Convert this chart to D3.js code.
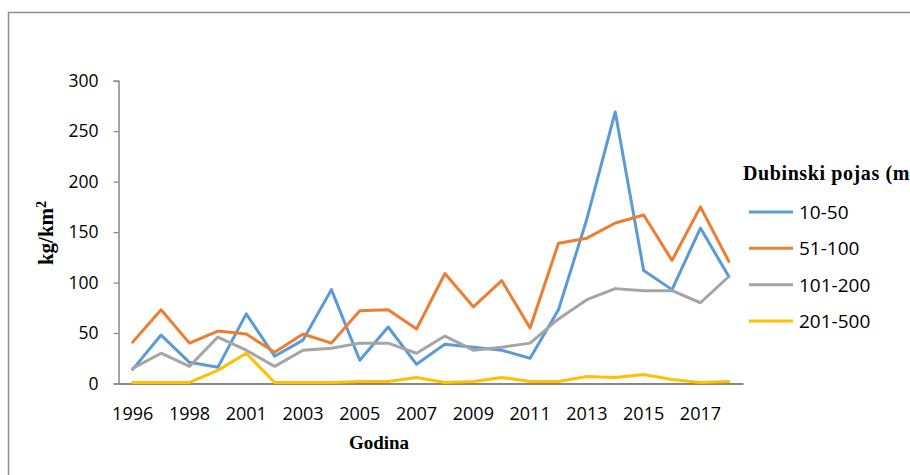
<!DOCTYPE html>
<html>
<head>
<meta charset="utf-8">
<script src="https://cdn.jsdelivr.net/npm/d3@7"></script>
<style>
  html, body { margin: 0; padding: 0; background: #fff; }
  svg { display: block; }
</style>
</head>
<body>
<svg id="chart" width="910" height="475"></svg>
<script>
const years = ["1996","1997","1998","2000","2001","2002","2003","2004","2005","2006","2007","2008","2009","2010","2011","2012","2013","2014","2015","2016","2017","2018"];
const seriesNames = ["10-50","51-100","101-200","201-500"];
const s10_50   = [14,48,21,16,69,27,43,93,23,56,19,39,36,33,25,73,163,269,112,93,154,106];
const s51_100  = [41,73,40,52,49,31,49,40,72,73,54,109,76,102,55,139,144,159,167,122,175,121];
const s101_200 = [15,30,17,46,33,17,33,35,40,40,30,47,33,36,40,64,83,94,92,92,80,106];
const s201_500 = [1,1,1,13,30,1,1,1,2,2,6,1,2,6,2,2,7,6,9,4,1,2];
const yTicks = [0,50,100,150,200,250,300];
const colors = ["#5B9BD5","#ED7D31","#A5A5A5","#FFC000"];

const series = [s10_50, s51_100, s101_200, s201_500];

const svg = d3.select("#chart");

// outer chart frame (cropped on right/bottom)
svg.append("rect")
  .attr("x", 8.5).attr("y", 12.5)
  .attr("width", 1000).attr("height", 1000)
  .attr("fill", "none").attr("stroke", "#8f8f8f").attr("stroke-width", 1.5);

const x = d3.scaleBand().domain(years).range([118.5, 743]);
const y = d3.scaleLinear().domain([0, 300]).range([383.5, 80.7]);
const cx = d => x(d) + x.bandwidth() / 2;

// y axis
const yAxis = d3.axisLeft(y).tickValues(yTicks).tickSize(5).tickPadding(15);
const gy = svg.append("g").attr("transform", "translate(118.5,0)").call(yAxis);
gy.select(".domain").attr("stroke", "#868686").attr("stroke-width", 1.5);
gy.selectAll(".tick line").attr("stroke", "#868686").attr("stroke-width", 1.2);
gy.selectAll(".tick text")
  .attr("font-family", "'Open Sans', sans-serif")
  .attr("font-size", 17.5).attr("fill", "#000");

// x axis (no ticks), labels every other category
const xAxis = d3.axisBottom(x).tickSize(0).tickPadding(24)
  .tickFormat((d, i) => i % 2 === 0 ? d : "");
const gx = svg.append("g").attr("transform", "translate(0,383.5)").call(xAxis);
gx.select(".domain").attr("stroke", "#868686").attr("stroke-width", 2);
gx.selectAll(".tick text")
  .attr("font-family", "'Open Sans', sans-serif")
  .attr("font-size", 18).attr("fill", "#000");

// lines
const line = d3.line()
  .x((d, i) => cx(years[i]))
  .y(d => y(d));

series.forEach((s, k) => {
  svg.append("path")
    .datum(s)
    .attr("d", line)
    .attr("fill", "none")
    .attr("stroke", colors[k])
    .attr("stroke-width", 3)
    .attr("stroke-linejoin", "round")
    .attr("stroke-linecap", "round");
});

// axis titles
svg.append("text")
  .attr("x", 379).attr("y", 449)
  .attr("text-anchor", "middle")
  .attr("font-family", "'Liberation Serif', 'Times New Roman', serif")
  .attr("font-weight", "bold").attr("font-size", 19)
  .text("Godina");

const yt = svg.append("text")
  .attr("transform", "translate(53,233) rotate(-90)")
  .attr("text-anchor", "middle")
  .attr("font-family", "'Liberation Serif', 'Times New Roman', serif")
  .attr("font-weight", "bold").attr("font-size", 21);
yt.append("tspan").text("kg/km");
yt.append("tspan").attr("baseline-shift", "super").attr("font-size", 14).text("2");

// legend
svg.append("text")
  .attr("x", 743).attr("y", 180)
  .attr("font-family", "'Liberation Serif', 'Times New Roman', serif")
  .attr("font-weight", "bold").attr("font-size", 20)
  .attr("letter-spacing", 0.6)
  .text("Dubinski pojas (m)");

const legY = d3.scalePoint().domain(seriesNames).range([212, 321]);
seriesNames.forEach((n, k) => {
  const yy = legY(n);
  svg.append("line")
    .attr("x1", 749).attr("x2", 793)
    .attr("y1", yy).attr("y2", yy)
    .attr("stroke", colors[k]).attr("stroke-width", 3);
  svg.append("text")
    .attr("x", 799).attr("y", yy)
    .attr("dy", "0.36em")
    .attr("font-family", "'Open Sans', sans-serif")
    .attr("font-size", 19).attr("fill", "#000")
    .text(n);
});
</script>
</body>
</html>
